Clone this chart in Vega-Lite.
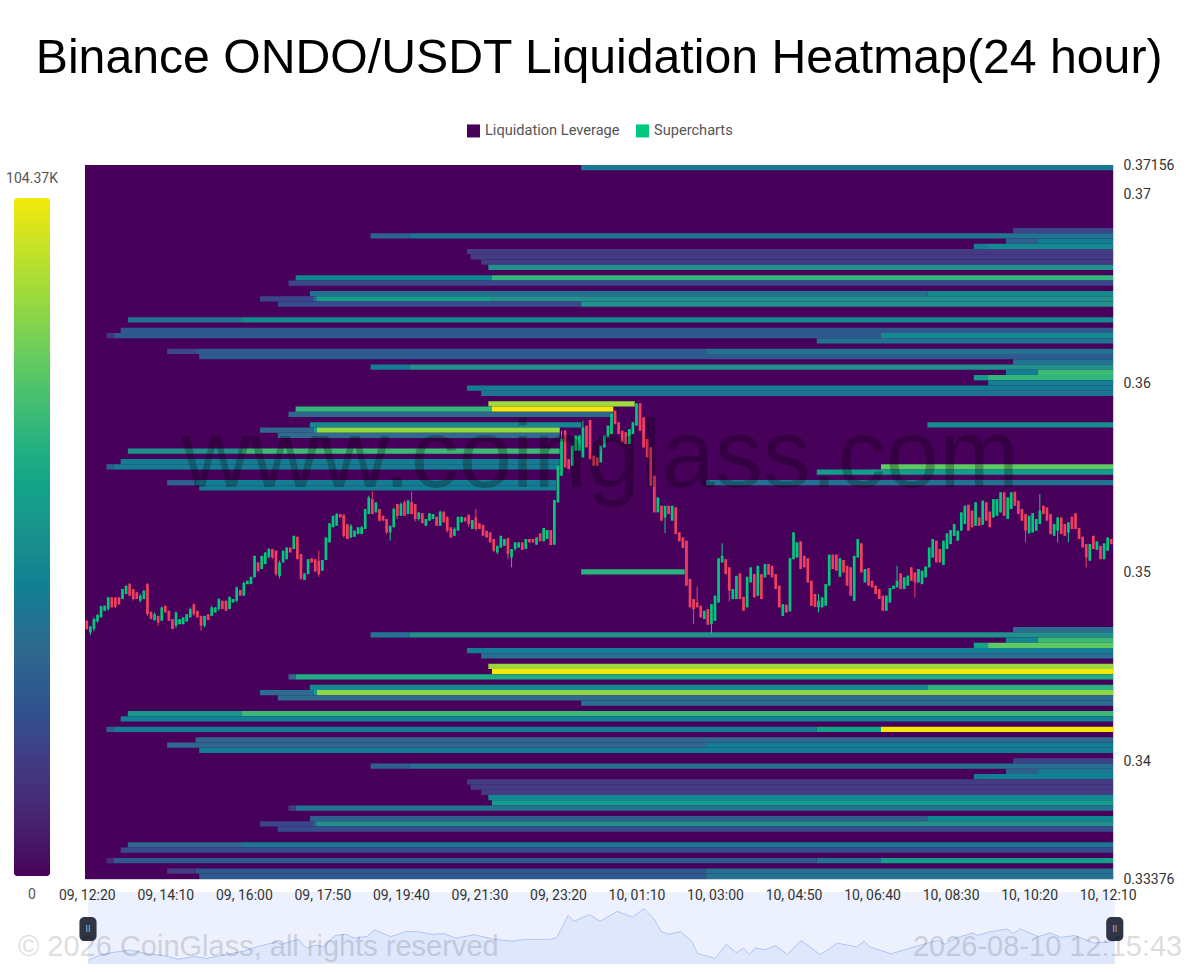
{
  "$schema": "https://vega.github.io/schema/vega-lite/v6.json",
  "title": {"text": "Binance ONDO/USDT Liquidation Heatmap(24 hour)", "font": "Liberation Sans", "fontSize": 48.2, "fontWeight": "normal", "color": "#000000", "anchor": "middle", "dx": 1, "offset": 40},
  "background": "#ffffff",
  "padding": {"left": 14, "top": 33, "right": 0, "bottom": 0},
  "bounds": "flush",
  "spacing": 13,
  "resolve": {"scale": {"x": "independent", "y": "independent"}},
  "datasets": {
    "mini": [
{"n":0.34,"p":0.34649},{"n":3.56,"p":0.34764},{"n":6.8,"p":0.34826},{"n":12.1,"p":0.34888},{"n":16.4,"p":0.34808},{"n":21.8,"p":0.34755},{"n":25.5,"p":0.34676},{"n":30.4,"p":0.34738},{"n":33.6,"p":0.34693},{"n":39,"p":0.34782},{"n":44.3,"p":0.34871},{"n":47.5,"p":0.34959},{"n":52.9,"p":0.35075},{"n":54.5,"p":0.35021},{"n":59.3,"p":0.35137},{"n":61.5,"p":0.34933},{"n":64.1,"p":0.35004},{"n":66.3,"p":0.34959},{"n":69.5,"p":0.35225},{"n":72.7,"p":0.35252},{"n":74.9,"p":0.35163},{"n":78.6,"p":0.35208},{"n":80.6,"p":0.35358},{"n":85.1,"p":0.35199},{"n":89.3,"p":0.35314},{"n":92.6,"p":0.35314},{"n":96.8,"p":0.35252},{"n":100.1,"p":0.3527},{"n":103.3,"p":0.35163},{"n":108.6,"p":0.35243},{"n":114,"p":0.35137},{"n":119.4,"p":0.35092},{"n":122.6,"p":0.35137},{"n":130.1,"p":0.35137},{"n":131.7,"p":0.35181},{"n":134.9,"p":0.35695},{"n":136.5,"p":0.35553},{"n":140.8,"p":0.35713},{"n":143.8,"p":0.35553},{"n":148.6,"p":0.35784},{"n":152.9,"p":0.35651},{"n":156.1,"p":0.35846},{"n":158.8,"p":0.35624},{"n":161,"p":0.35314},{"n":163.1,"p":0.35252},{"n":166.3,"p":0.35314},{"n":169.5,"p":0.35092},{"n":171.1,"p":0.34809},{"n":176,"p":0.34693},{"n":179.2,"p":0.35021},{"n":181.9,"p":0.34826},{"n":184,"p":0.34933},{"n":185.6,"p":0.34782},{"n":187.2,"p":0.34933},{"n":189.9,"p":0.34897},{"n":193.1,"p":0.34986},{"n":196.3,"p":0.34782},{"n":200.1,"p":0.3511},{"n":205.5,"p":0.34782},{"n":210.3,"p":0.35048},{"n":215.6,"p":0.34959},{"n":217.8,"p":0.35092},{"n":219.4,"p":0.34959},{"n":225.3,"p":0.348},{"n":231.7,"p":0.34959},{"n":238.7,"p":0.35119},{"n":240.3,"p":0.35021},{"n":243.5,"p":0.35163},{"n":248.3,"p":0.35287},{"n":249.4,"p":0.35225},{"n":253.2,"p":0.35314},{"n":258,"p":0.35376},{"n":259.6,"p":0.3527},{"n":261.5,"p":0.35376},{"n":266.6,"p":0.35199},{"n":269.8,"p":0.35287},{"n":273,"p":0.35181},{"n":276.8,"p":0.35225},{"n":282.1,"p":0.35048},{"n":288,"p":0.35092}
    ],
    "candles": [
{"n":0,"o":0.34743,"h":0.34747,"l":0.34694,"c":0.34699},{"n":1,"o":0.34682,"h":0.34717,"l":0.34667,"c":0.34712},{"n":2,"o":0.347,"h":0.34761,"l":0.34687,"c":0.34752},{"n":3,"o":0.34739,"h":0.34778,"l":0.34734,"c":0.34775},{"n":4,"o":0.34761,"h":0.34823,"l":0.34761,"c":0.3482},{"n":5,"o":0.34796,"h":0.34823,"l":0.34796,"c":0.34823},{"n":6,"o":0.34805,"h":0.3487,"l":0.34796,"c":0.34867},{"n":7,"o":0.34867,"h":0.34867,"l":0.34814,"c":0.34814},{"n":8,"o":0.34867,"h":0.34867,"l":0.3481,"c":0.34816},{"n":9,"o":0.34867,"h":0.34867,"l":0.34827,"c":0.34831},
{"n":10,"o":0.34858,"h":0.34911,"l":0.34858,"c":0.34911},{"n":11,"o":0.34885,"h":0.34929,"l":0.34885,"c":0.34929},{"n":12,"o":0.34937,"h":0.34943,"l":0.34876,"c":0.34876},{"n":13,"o":0.34911,"h":0.34911,"l":0.3485,"c":0.34858},{"n":14,"o":0.34894,"h":0.34894,"l":0.34858,"c":0.34858},{"n":15,"o":0.34849,"h":0.34885,"l":0.3484,"c":0.34876},{"n":16,"o":0.34858,"h":0.34906,"l":0.34858,"c":0.34902},{"n":17,"o":0.34937,"h":0.34943,"l":0.34769,"c":0.34778},{"n":18,"o":0.34791,"h":0.34791,"l":0.34752,"c":0.34752},{"n":19,"o":0.34747,"h":0.34787,"l":0.34743,"c":0.34778},
{"n":20,"o":0.34769,"h":0.34769,"l":0.34717,"c":0.34734},{"n":21,"o":0.34743,"h":0.34818,"l":0.34743,"c":0.34814},{"n":22,"o":0.34823,"h":0.34823,"l":0.34787,"c":0.34787},{"n":23,"o":0.34796,"h":0.34796,"l":0.34743,"c":0.34743},{"n":24,"o":0.34752,"h":0.34752,"l":0.34699,"c":0.34699},{"n":25,"o":0.34717,"h":0.34792,"l":0.34704,"c":0.34787},{"n":26,"o":0.34725,"h":0.34752,"l":0.34725,"c":0.34752},{"n":27,"o":0.34725,"h":0.34761,"l":0.34725,"c":0.34761},{"n":28,"o":0.34739,"h":0.34778,"l":0.34739,"c":0.34778},{"n":29,"o":0.34761,"h":0.34814,"l":0.34761,"c":0.34805},
{"n":30,"o":0.34831,"h":0.34835,"l":0.34769,"c":0.34778},{"n":31,"o":0.34796,"h":0.34796,"l":0.34761,"c":0.34761},{"n":32,"o":0.34769,"h":0.34769,"l":0.3469,"c":0.34717},{"n":33,"o":0.34717,"h":0.34769,"l":0.34708,"c":0.34769},{"n":34,"o":0.34778,"h":0.34778,"l":0.34747,"c":0.34747},{"n":35,"o":0.34769,"h":0.34823,"l":0.34769,"c":0.34814},{"n":36,"o":0.34787,"h":0.34814,"l":0.34787,"c":0.34814},{"n":37,"o":0.34805,"h":0.34863,"l":0.34796,"c":0.34858},{"n":38,"o":0.34849,"h":0.34849,"l":0.34805,"c":0.34805},{"n":39,"o":0.34849,"h":0.34849,"l":0.34796,"c":0.34796},
{"n":40,"o":0.34805,"h":0.3487,"l":0.34805,"c":0.3487},{"n":41,"o":0.3484,"h":0.34858,"l":0.3484,"c":0.34858},{"n":42,"o":0.34849,"h":0.34924,"l":0.3484,"c":0.3492},{"n":43,"o":0.34906,"h":0.34906,"l":0.34876,"c":0.34876},{"n":44,"o":0.34876,"h":0.34951,"l":0.34876,"c":0.34943},{"n":45,"o":0.34937,"h":0.34955,"l":0.34937,"c":0.34955},{"n":46,"o":0.34937,"h":0.34976,"l":0.34937,"c":0.34976},{"n":47,"o":0.34973,"h":0.35087,"l":0.34973,"c":0.35087},{"n":48,"o":0.35052,"h":0.35052,"l":0.34999,"c":0.35008},{"n":49,"o":0.35017,"h":0.35087,"l":0.35017,"c":0.35087},
{"n":50,"o":0.35043,"h":0.35105,"l":0.35043,"c":0.35105},{"n":51,"o":0.35078,"h":0.35128,"l":0.35078,"c":0.35123},{"n":52,"o":0.35123,"h":0.35123,"l":0.35069,"c":0.35078},{"n":53,"o":0.35114,"h":0.35114,"l":0.34981,"c":0.3499},{"n":54,"o":0.34981,"h":0.35061,"l":0.34967,"c":0.35052},{"n":55,"o":0.35052,"h":0.35114,"l":0.35052,"c":0.35114},{"n":56,"o":0.35069,"h":0.35131,"l":0.35069,"c":0.35131},{"n":57,"o":0.35131,"h":0.35131,"l":0.35105,"c":0.35105},{"n":58,"o":0.35123,"h":0.35193,"l":0.35123,"c":0.35193},{"n":59,"o":0.35188,"h":0.35188,"l":0.35069,"c":0.35069},
{"n":60,"o":0.35096,"h":0.35096,"l":0.34959,"c":0.34967},{"n":61,"o":0.34959,"h":0.34994,"l":0.34959,"c":0.34994},{"n":62,"o":0.3499,"h":0.35069,"l":0.3499,"c":0.35069},{"n":63,"o":0.35074,"h":0.35074,"l":0.35052,"c":0.35052},{"n":64,"o":0.35069,"h":0.35069,"l":0.35004,"c":0.35004},{"n":65,"o":0.35061,"h":0.35114,"l":0.34976,"c":0.3499},{"n":66,"o":0.35008,"h":0.35065,"l":0.35008,"c":0.35065},{"n":67,"o":0.35065,"h":0.35184,"l":0.35065,"c":0.35184},{"n":68,"o":0.35158,"h":0.35259,"l":0.35158,"c":0.35259},{"n":69,"o":0.35238,"h":0.35299,"l":0.35238,"c":0.35299},
{"n":70,"o":0.35247,"h":0.35313,"l":0.35247,"c":0.35308},{"n":71,"o":0.35308,"h":0.35308,"l":0.3529,"c":0.3529},{"n":72,"o":0.35305,"h":0.35305,"l":0.35184,"c":0.35193},{"n":73,"o":0.35255,"h":0.35255,"l":0.35176,"c":0.35176},{"n":74,"o":0.35184,"h":0.35255,"l":0.35181,"c":0.35246},{"n":75,"o":0.35188,"h":0.3522,"l":0.35188,"c":0.3522},{"n":76,"o":0.35202,"h":0.35238,"l":0.35202,"c":0.35238},{"n":77,"o":0.35202,"h":0.35246,"l":0.35202,"c":0.35238},{"n":78,"o":0.35229,"h":0.35335,"l":0.35229,"c":0.35335},{"n":79,"o":0.35308,"h":0.35405,"l":0.35308,"c":0.35396},
{"n":80,"o":0.35387,"h":0.35428,"l":0.35308,"c":0.35308},{"n":81,"o":0.35317,"h":0.3537,"l":0.35317,"c":0.3537},{"n":82,"o":0.35335,"h":0.35335,"l":0.35269,"c":0.35273},{"n":83,"o":0.35299,"h":0.35299,"l":0.35273,"c":0.35273},{"n":84,"o":0.35282,"h":0.35282,"l":0.35202,"c":0.35211},{"n":85,"o":0.35211,"h":0.35246,"l":0.35167,"c":0.35246},{"n":86,"o":0.35238,"h":0.35343,"l":0.35238,"c":0.35335},{"n":87,"o":0.35361,"h":0.35361,"l":0.35282,"c":0.35299},{"n":88,"o":0.35299,"h":0.3537,"l":0.35299,"c":0.35361},{"n":89,"o":0.3537,"h":0.35379,"l":0.35299,"c":0.35299},
{"n":90,"o":0.35308,"h":0.35384,"l":0.35308,"c":0.35379},{"n":91,"o":0.3537,"h":0.35428,"l":0.35308,"c":0.35308},{"n":92,"o":0.35361,"h":0.35361,"l":0.35269,"c":0.35282},{"n":93,"o":0.35282,"h":0.35317,"l":0.35273,"c":0.35317},{"n":94,"o":0.35313,"h":0.35313,"l":0.3526,"c":0.3526},{"n":95,"o":0.35246,"h":0.35282,"l":0.35246,"c":0.35282},{"n":96,"o":0.35273,"h":0.35312,"l":0.35273,"c":0.35312},{"n":97,"o":0.35282,"h":0.35308,"l":0.35282,"c":0.35308},{"n":98,"o":0.35294,"h":0.35294,"l":0.35246,"c":0.35246},{"n":99,"o":0.35246,"h":0.35326,"l":0.35246,"c":0.35321},
{"n":100,"o":0.35321,"h":0.35321,"l":0.35264,"c":0.35264},{"n":101,"o":0.35294,"h":0.35294,"l":0.35211,"c":0.3522},{"n":102,"o":0.35238,"h":0.35238,"l":0.35184,"c":0.35184},{"n":103,"o":0.35193,"h":0.35238,"l":0.35193,"c":0.35229},{"n":104,"o":0.3522,"h":0.35294,"l":0.3522,"c":0.35294},{"n":105,"o":0.35264,"h":0.35294,"l":0.35264,"c":0.35294},{"n":106,"o":0.3529,"h":0.3529,"l":0.35269,"c":0.35269},{"n":107,"o":0.35305,"h":0.35305,"l":0.35238,"c":0.35255},{"n":108,"o":0.35229,"h":0.35277,"l":0.35229,"c":0.35277},{"n":109,"o":0.3529,"h":0.35335,"l":0.3522,"c":0.35229},
{"n":110,"o":0.35259,"h":0.35259,"l":0.35229,"c":0.35229},{"n":111,"o":0.35251,"h":0.35251,"l":0.35193,"c":0.35193},{"n":112,"o":0.3522,"h":0.3522,"l":0.35184,"c":0.35184},{"n":113,"o":0.35211,"h":0.35211,"l":0.35158,"c":0.35158},{"n":114,"o":0.35176,"h":0.35176,"l":0.35105,"c":0.35114},{"n":115,"o":0.35105,"h":0.3514,"l":0.35096,"c":0.3514},{"n":116,"o":0.35131,"h":0.35193,"l":0.35131,"c":0.35193},{"n":117,"o":0.3514,"h":0.35176,"l":0.3514,"c":0.35176},{"n":118,"o":0.35181,"h":0.35181,"l":0.35069,"c":0.35096},{"n":119,"o":0.35078,"h":0.35123,"l":0.35026,"c":0.35123},
{"n":120,"o":0.35123,"h":0.35158,"l":0.35114,"c":0.35158},{"n":121,"o":0.35131,"h":0.35158,"l":0.35131,"c":0.35158},{"n":122,"o":0.35158,"h":0.35158,"l":0.35118,"c":0.35118},{"n":123,"o":0.35123,"h":0.35176,"l":0.35123,"c":0.35176},{"n":124,"o":0.35176,"h":0.35176,"l":0.35158,"c":0.35158},{"n":125,"o":0.35176,"h":0.35176,"l":0.35158,"c":0.35158},{"n":126,"o":0.35146,"h":0.35184,"l":0.35146,"c":0.35184},{"n":127,"o":0.35206,"h":0.35206,"l":0.35164,"c":0.35164},{"n":128,"o":0.35164,"h":0.35234,"l":0.35164,"c":0.35234},{"n":129,"o":0.35176,"h":0.35223,"l":0.35176,"c":0.35223},
{"n":130,"o":0.35223,"h":0.35223,"l":0.35144,"c":0.35144},{"n":131,"o":0.35146,"h":0.35382,"l":0.35146,"c":0.35382},{"n":132,"o":0.3537,"h":0.35564,"l":0.3537,"c":0.35564},{"n":133,"o":0.35511,"h":0.35749,"l":0.35511,"c":0.35705},{"n":134,"o":0.35749,"h":0.35753,"l":0.35555,"c":0.35555},{"n":135,"o":0.35599,"h":0.35599,"l":0.35546,"c":0.35546},{"n":136,"o":0.35564,"h":0.3567,"l":0.35564,"c":0.3567},{"n":137,"o":0.35643,"h":0.35723,"l":0.35643,"c":0.35723},{"n":138,"o":0.35643,"h":0.35728,"l":0.35643,"c":0.35723},{"n":139,"o":0.35608,"h":0.35802,"l":0.35608,"c":0.35767},
{"n":140,"o":0.35776,"h":0.35776,"l":0.35661,"c":0.35661},{"n":141,"o":0.35806,"h":0.35806,"l":0.35599,"c":0.35599},{"n":142,"o":0.35617,"h":0.35617,"l":0.35564,"c":0.35564},{"n":143,"o":0.35608,"h":0.35608,"l":0.35564,"c":0.35564},{"n":144,"o":0.35582,"h":0.3567,"l":0.35582,"c":0.3567},{"n":145,"o":0.35661,"h":0.35723,"l":0.35661,"c":0.35723},{"n":146,"o":0.35714,"h":0.35776,"l":0.35714,"c":0.35776},{"n":147,"o":0.35732,"h":0.35838,"l":0.35732,"c":0.35838},{"n":148,"o":0.35855,"h":0.35855,"l":0.35784,"c":0.35784},{"n":149,"o":0.35794,"h":0.35794,"l":0.35732,"c":0.35732},
{"n":150,"o":0.35749,"h":0.35749,"l":0.35688,"c":0.35688},{"n":151,"o":0.35741,"h":0.35741,"l":0.35679,"c":0.35679},{"n":152,"o":0.35679,"h":0.35758,"l":0.35679,"c":0.35758},{"n":153,"o":0.35732,"h":0.35794,"l":0.35732,"c":0.35794},{"n":154,"o":0.35776,"h":0.35894,"l":0.35776,"c":0.35894},{"n":155,"o":0.35894,"h":0.35894,"l":0.35749,"c":0.35749},{"n":156,"o":0.3582,"h":0.3582,"l":0.35661,"c":0.35661},{"n":157,"o":0.35705,"h":0.35705,"l":0.35608,"c":0.35608},{"n":158,"o":0.35661,"h":0.35661,"l":0.35458,"c":0.35458},{"n":159,"o":0.35511,"h":0.35511,"l":0.35317,"c":0.35317},
{"n":160,"o":0.35317,"h":0.35396,"l":0.35317,"c":0.35396},{"n":161,"o":0.35352,"h":0.35352,"l":0.35273,"c":0.35273},{"n":162,"o":0.3529,"h":0.35352,"l":0.35206,"c":0.35352},{"n":163,"o":0.35352,"h":0.35352,"l":0.35308,"c":0.35308},{"n":164,"o":0.35273,"h":0.35352,"l":0.35273,"c":0.35352},{"n":165,"o":0.35343,"h":0.35343,"l":0.35202,"c":0.35202},{"n":166,"o":0.35211,"h":0.35211,"l":0.35164,"c":0.35164},{"n":167,"o":0.35184,"h":0.35184,"l":0.35128,"c":0.35128},{"n":168,"o":0.35167,"h":0.35167,"l":0.34929,"c":0.34929},{"n":169,"o":0.34964,"h":0.34964,"l":0.34814,"c":0.34814},
{"n":170,"o":0.34858,"h":0.34858,"l":0.34725,"c":0.34805},{"n":171,"o":0.3484,"h":0.34924,"l":0.34814,"c":0.34814},{"n":172,"o":0.34823,"h":0.34823,"l":0.34761,"c":0.34761},{"n":173,"o":0.34752,"h":0.34796,"l":0.34752,"c":0.34796},{"n":174,"o":0.34805,"h":0.34805,"l":0.34722,"c":0.34722},{"n":175,"o":0.34725,"h":0.34831,"l":0.34673,"c":0.34831},{"n":176,"o":0.34743,"h":0.34876,"l":0.34743,"c":0.34876},{"n":177,"o":0.3484,"h":0.35074,"l":0.3484,"c":0.35074},{"n":178,"o":0.35052,"h":0.35153,"l":0.35052,"c":0.35087},{"n":179,"o":0.35069,"h":0.35069,"l":0.3499,"c":0.3499},
{"n":180,"o":0.35026,"h":0.35026,"l":0.34846,"c":0.34902},{"n":181,"o":0.34858,"h":0.34911,"l":0.34858,"c":0.34911},{"n":182,"o":0.34858,"h":0.34981,"l":0.34858,"c":0.34981},{"n":183,"o":0.34994,"h":0.34994,"l":0.34858,"c":0.34858},{"n":184,"o":0.3487,"h":0.3487,"l":0.34796,"c":0.34796},{"n":185,"o":0.34814,"h":0.34976,"l":0.34814,"c":0.34976},{"n":186,"o":0.34946,"h":0.35026,"l":0.34946,"c":0.35026},{"n":187,"o":0.3499,"h":0.3499,"l":0.34867,"c":0.34867},{"n":188,"o":0.34876,"h":0.35034,"l":0.34876,"c":0.35034},{"n":189,"o":0.3499,"h":0.3499,"l":0.34858,"c":0.34858},
{"n":190,"o":0.34973,"h":0.35043,"l":0.34973,"c":0.35043},{"n":191,"o":0.35043,"h":0.35043,"l":0.34987,"c":0.34987},{"n":192,"o":0.35034,"h":0.35034,"l":0.34973,"c":0.34973},{"n":193,"o":0.3499,"h":0.3499,"l":0.34911,"c":0.34911},{"n":194,"o":0.34929,"h":0.34929,"l":0.34814,"c":0.34814},{"n":195,"o":0.34769,"h":0.34831,"l":0.34769,"c":0.34831},{"n":196,"o":0.34828,"h":0.34828,"l":0.34787,"c":0.34787},{"n":197,"o":0.34793,"h":0.35074,"l":0.34793,"c":0.35074},{"n":198,"o":0.35069,"h":0.35211,"l":0.35069,"c":0.35211},{"n":199,"o":0.35078,"h":0.35158,"l":0.35078,"c":0.35158},
{"n":200,"o":0.35163,"h":0.35163,"l":0.35017,"c":0.35017},{"n":201,"o":0.35087,"h":0.35087,"l":0.35026,"c":0.35026},{"n":202,"o":0.35074,"h":0.35074,"l":0.34946,"c":0.34946},{"n":203,"o":0.34955,"h":0.34955,"l":0.34823,"c":0.34823},{"n":204,"o":0.34885,"h":0.34885,"l":0.34817,"c":0.34817},{"n":205,"o":0.34814,"h":0.34885,"l":0.34787,"c":0.34849},{"n":206,"o":0.34814,"h":0.34867,"l":0.34814,"c":0.34867},{"n":207,"o":0.34823,"h":0.34937,"l":0.34823,"c":0.34937},{"n":208,"o":0.34929,"h":0.35093,"l":0.34929,"c":0.35093},{"n":209,"o":0.35093,"h":0.35093,"l":0.35017,"c":0.35017},
{"n":210,"o":0.35093,"h":0.35093,"l":0.35008,"c":0.35008},{"n":211,"o":0.34976,"h":0.35074,"l":0.34976,"c":0.35074},{"n":212,"o":0.35065,"h":0.35065,"l":0.34999,"c":0.34999},{"n":213,"o":0.35034,"h":0.35034,"l":0.34929,"c":0.34929},{"n":214,"o":0.35026,"h":0.35026,"l":0.34876,"c":0.34876},{"n":215,"o":0.34849,"h":0.35087,"l":0.34849,"c":0.35087},{"n":216,"o":0.35078,"h":0.35176,"l":0.35078,"c":0.35176},{"n":217,"o":0.35153,"h":0.35153,"l":0.34999,"c":0.34999},{"n":218,"o":0.34946,"h":0.35017,"l":0.34946,"c":0.35017},{"n":219,"o":0.35022,"h":0.35022,"l":0.34929,"c":0.34929},
{"n":220,"o":0.34955,"h":0.34955,"l":0.3492,"c":0.3492},{"n":221,"o":0.34929,"h":0.34929,"l":0.34885,"c":0.34885},{"n":222,"o":0.34911,"h":0.34911,"l":0.34858,"c":0.34858},{"n":223,"o":0.34876,"h":0.34876,"l":0.34796,"c":0.34796},{"n":224,"o":0.34796,"h":0.34876,"l":0.34796,"c":0.34876},{"n":225,"o":0.3484,"h":0.34916,"l":0.3484,"c":0.34916},{"n":226,"o":0.34911,"h":0.34929,"l":0.34911,"c":0.34929},{"n":227,"o":0.3492,"h":0.35034,"l":0.3492,"c":0.34955},{"n":228,"o":0.34994,"h":0.34994,"l":0.34911,"c":0.34911},{"n":229,"o":0.34911,"h":0.34973,"l":0.34911,"c":0.34973},
{"n":230,"o":0.34929,"h":0.34982,"l":0.34929,"c":0.34982},{"n":231,"o":0.35026,"h":0.35026,"l":0.34955,"c":0.34955},{"n":232,"o":0.34999,"h":0.34999,"l":0.34867,"c":0.34946},{"n":233,"o":0.34946,"h":0.35017,"l":0.34946,"c":0.35017},{"n":234,"o":0.34937,"h":0.35008,"l":0.34937,"c":0.35008},{"n":235,"o":0.34973,"h":0.3503,"l":0.34973,"c":0.3503},{"n":236,"o":0.35026,"h":0.35131,"l":0.35026,"c":0.35131},{"n":237,"o":0.35078,"h":0.35176,"l":0.35078,"c":0.35176},{"n":238,"o":0.35167,"h":0.35167,"l":0.35052,"c":0.35052},{"n":239,"o":0.35123,"h":0.35123,"l":0.35052,"c":0.35052},
{"n":240,"o":0.35039,"h":0.35167,"l":0.35039,"c":0.35167},{"n":241,"o":0.35123,"h":0.35206,"l":0.35123,"c":0.35206},{"n":242,"o":0.35149,"h":0.35223,"l":0.35149,"c":0.35223},{"n":243,"o":0.35193,"h":0.35255,"l":0.35193,"c":0.35255},{"n":244,"o":0.35167,"h":0.3522,"l":0.35167,"c":0.3522},{"n":245,"o":0.3522,"h":0.35317,"l":0.3522,"c":0.35317},{"n":246,"o":0.35255,"h":0.35352,"l":0.35255,"c":0.35352},{"n":247,"o":0.35357,"h":0.35357,"l":0.3522,"c":0.3522},{"n":248,"o":0.35326,"h":0.35326,"l":0.35238,"c":0.35238},{"n":249,"o":0.35246,"h":0.3537,"l":0.35246,"c":0.3537},
{"n":250,"o":0.3529,"h":0.3529,"l":0.35246,"c":0.35246},{"n":251,"o":0.35251,"h":0.35379,"l":0.35251,"c":0.35379},{"n":252,"o":0.3537,"h":0.3537,"l":0.35273,"c":0.35273},{"n":253,"o":0.35321,"h":0.35321,"l":0.35238,"c":0.35238},{"n":254,"o":0.3529,"h":0.35387,"l":0.3529,"c":0.35387},{"n":255,"o":0.35299,"h":0.35387,"l":0.35299,"c":0.35387},{"n":256,"o":0.35317,"h":0.35423,"l":0.35317,"c":0.35423},{"n":257,"o":0.35423,"h":0.35423,"l":0.35299,"c":0.35299},{"n":258,"o":0.35282,"h":0.35396,"l":0.35282,"c":0.35396},{"n":259,"o":0.35335,"h":0.35423,"l":0.35335,"c":0.35423},
{"n":260,"o":0.35426,"h":0.35426,"l":0.35352,"c":0.35352},{"n":261,"o":0.35379,"h":0.35379,"l":0.35308,"c":0.35308},{"n":262,"o":0.35335,"h":0.35335,"l":0.35273,"c":0.35273},{"n":263,"o":0.35308,"h":0.35308,"l":0.35158,"c":0.3522},{"n":264,"o":0.35206,"h":0.35299,"l":0.35206,"c":0.35299},{"n":265,"o":0.35211,"h":0.35313,"l":0.35211,"c":0.35313},{"n":266,"o":0.3522,"h":0.35282,"l":0.3522,"c":0.35282},{"n":267,"o":0.35255,"h":0.35414,"l":0.35255,"c":0.35326},{"n":268,"o":0.35352,"h":0.35352,"l":0.35308,"c":0.35308},{"n":269,"o":0.35343,"h":0.35343,"l":0.35273,"c":0.35273},
{"n":270,"o":0.35308,"h":0.35308,"l":0.35202,"c":0.35202},{"n":271,"o":0.35193,"h":0.35255,"l":0.35193,"c":0.35255},{"n":272,"o":0.3522,"h":0.3529,"l":0.35158,"c":0.3529},{"n":273,"o":0.3529,"h":0.3529,"l":0.35202,"c":0.35202},{"n":274,"o":0.35255,"h":0.35255,"l":0.35193,"c":0.35193},{"n":275,"o":0.35211,"h":0.35264,"l":0.35158,"c":0.35264},{"n":276,"o":0.35294,"h":0.35294,"l":0.35229,"c":0.35229},{"n":277,"o":0.35312,"h":0.35312,"l":0.35229,"c":0.35229},{"n":278,"o":0.35234,"h":0.35234,"l":0.35176,"c":0.35176},{"n":279,"o":0.35188,"h":0.35188,"l":0.35131,"c":0.35131},
{"n":280,"o":0.35149,"h":0.35149,"l":0.35026,"c":0.35078},{"n":281,"o":0.35061,"h":0.35149,"l":0.35061,"c":0.35149},{"n":282,"o":0.35193,"h":0.35193,"l":0.35123,"c":0.35123},{"n":283,"o":0.35118,"h":0.35163,"l":0.35118,"c":0.35163},{"n":284,"o":0.3514,"h":0.3514,"l":0.35069,"c":0.35069},{"n":285,"o":0.35069,"h":0.35153,"l":0.35069,"c":0.35153},{"n":286,"o":0.35114,"h":0.35184,"l":0.35114,"c":0.35184},{"n":287,"o":0.35176,"h":0.35176,"l":0.35149,"c":0.35149}
    ],
    "heat": [
{"x0":138.5,"x1":287.5,"p0":0.37156,"p1":0.37128,"v":41700},
{"x0":259.5,"x1":287.5,"p0":0.36822,"p1":0.36795,"v":20900},
{"x0":79.5,"x1":90.5,"p0":0.36795,"p1":0.36767,"v":31300},{"x0":90.5,"x1":287.5,"p0":0.36795,"p1":0.36767,"v":39700},
{"x0":257.5,"x1":266.5,"p0":0.36767,"p1":0.36739,"v":31300},{"x0":266.5,"x1":287.5,"p0":0.36767,"p1":0.36739,"v":43800},
{"x0":248.5,"x1":252.5,"p0":0.36739,"p1":0.36711,"v":43800},{"x0":252.5,"x1":287.5,"p0":0.36739,"p1":0.36711,"v":49100},
{"x0":106.5,"x1":287.5,"p0":0.36711,"p1":0.36684,"v":17700},
{"x0":107.5,"x1":287.5,"p0":0.36684,"p1":0.36656,"v":17700},
{"x0":110.5,"x1":287.5,"p0":0.36656,"p1":0.36628,"v":17700},
{"x0":112.5,"x1":287.5,"p0":0.36628,"p1":0.366,"v":52200},
{"x0":58.5,"x1":113.5,"p0":0.36572,"p1":0.36545,"v":47000},{"x0":113.5,"x1":287.5,"p0":0.36572,"p1":0.36545,"v":68900},
{"x0":56.5,"x1":287.5,"p0":0.36545,"p1":0.36517,"v":20900},
{"x0":62.5,"x1":235.5,"p0":0.36489,"p1":0.36461,"v":38600},{"x0":235.5,"x1":287.5,"p0":0.36489,"p1":0.36461,"v":49100},
{"x0":48.5,"x1":63.5,"p0":0.36461,"p1":0.36433,"v":20900},{"x0":63.5,"x1":64.5,"p0":0.36461,"p1":0.36433,"v":39700},{"x0":64.5,"x1":113.5,"p0":0.36461,"p1":0.36433,"v":57400},{"x0":113.5,"x1":287.5,"p0":0.36461,"p1":0.36433,"v":52200},
{"x0":53.5,"x1":138.5,"p0":0.36433,"p1":0.36406,"v":23000},{"x0":138.5,"x1":287.5,"p0":0.36433,"p1":0.36406,"v":52200},
{"x0":11.5,"x1":43.5,"p0":0.3635,"p1":0.36322,"v":39700},{"x0":43.5,"x1":287.5,"p0":0.3635,"p1":0.36322,"v":49100},
{"x0":9.5,"x1":287.5,"p0":0.36294,"p1":0.36267,"v":28200},
{"x0":5.5,"x1":7.5,"p0":0.36267,"p1":0.36239,"v":15700},{"x0":7.5,"x1":222.5,"p0":0.36267,"p1":0.36239,"v":28200},{"x0":222.5,"x1":287.5,"p0":0.36267,"p1":0.36239,"v":49100},
{"x0":204.5,"x1":287.5,"p0":0.36239,"p1":0.36211,"v":39700},
{"x0":22.5,"x1":30.5,"p0":0.36183,"p1":0.36155,"v":20900},{"x0":30.5,"x1":173.5,"p0":0.36183,"p1":0.36155,"v":29200},{"x0":173.5,"x1":287.5,"p0":0.36183,"p1":0.36155,"v":38600},
{"x0":31.5,"x1":287.5,"p0":0.36155,"p1":0.36128,"v":29200},
{"x0":259.5,"x1":287.5,"p0":0.36128,"p1":0.361,"v":39700},
{"x0":79.5,"x1":90.5,"p0":0.361,"p1":0.36072,"v":43800},{"x0":90.5,"x1":287.5,"p0":0.361,"p1":0.36072,"v":52200},
{"x0":257.5,"x1":266.5,"p0":0.36072,"p1":0.36044,"v":43800},{"x0":266.5,"x1":287.5,"p0":0.36072,"p1":0.36044,"v":71000},
{"x0":248.5,"x1":252.5,"p0":0.36044,"p1":0.36016,"v":57400},{"x0":252.5,"x1":287.5,"p0":0.36044,"p1":0.36016,"v":68900},
{"x0":252.5,"x1":287.5,"p0":0.36016,"p1":0.35989,"v":43800},
{"x0":106.5,"x1":287.5,"p0":0.35989,"p1":0.35961,"v":43800},
{"x0":110.5,"x1":287.5,"p0":0.35961,"p1":0.35933,"v":39700},
{"x0":112.5,"x1":153.5,"p0":0.35905,"p1":0.35877,"v":89800},
{"x0":58.5,"x1":113.5,"p0":0.35877,"p1":0.3585,"v":68900},{"x0":113.5,"x1":147.5,"p0":0.35877,"p1":0.3585,"v":104370},
{"x0":56.5,"x1":147.5,"p0":0.3585,"p1":0.35822,"v":34400},
{"x0":62.5,"x1":138.5,"p0":0.35794,"p1":0.35766,"v":49100},{"x0":235.5,"x1":287.5,"p0":0.35794,"p1":0.35766,"v":50100},
{"x0":48.5,"x1":63.5,"p0":0.35766,"p1":0.35738,"v":34400},{"x0":63.5,"x1":64.5,"p0":0.35766,"p1":0.35738,"v":57400},{"x0":64.5,"x1":132.5,"p0":0.35766,"p1":0.35738,"v":87700},
{"x0":53.5,"x1":132.5,"p0":0.35738,"p1":0.35711,"v":35500},
{"x0":11.5,"x1":43.5,"p0":0.35655,"p1":0.35627,"v":52200},{"x0":43.5,"x1":132.5,"p0":0.35655,"p1":0.35627,"v":71000},
{"x0":9.5,"x1":132.5,"p0":0.35599,"p1":0.35572,"v":43800},
{"x0":5.5,"x1":7.5,"p0":0.35572,"p1":0.35544,"v":31300},{"x0":7.5,"x1":132.5,"p0":0.35572,"p1":0.35544,"v":43800},{"x0":222.5,"x1":287.5,"p0":0.35572,"p1":0.35544,"v":78300},
{"x0":204.5,"x1":287.5,"p0":0.35544,"p1":0.35516,"v":57400},
{"x0":22.5,"x1":30.5,"p0":0.35488,"p1":0.3546,"v":31300},{"x0":30.5,"x1":131.5,"p0":0.35488,"p1":0.3546,"v":43800},{"x0":173.5,"x1":287.5,"p0":0.35488,"p1":0.3546,"v":38600},
{"x0":31.5,"x1":131.5,"p0":0.3546,"p1":0.35433,"v":43800},
{"x0":138.5,"x1":167.5,"p0":0.35016,"p1":0.34988,"v":67800},
{"x0":259.5,"x1":287.5,"p0":0.3471,"p1":0.34682,"v":36500},
{"x0":79.5,"x1":90.5,"p0":0.34682,"p1":0.34655,"v":39700},{"x0":90.5,"x1":287.5,"p0":0.34682,"p1":0.34655,"v":52200},
{"x0":257.5,"x1":266.5,"p0":0.34655,"p1":0.34627,"v":47000},{"x0":266.5,"x1":287.5,"p0":0.34655,"p1":0.34627,"v":71000},
{"x0":248.5,"x1":252.5,"p0":0.34627,"p1":0.34599,"v":60500},{"x0":252.5,"x1":287.5,"p0":0.34627,"p1":0.34599,"v":78300},
{"x0":106.5,"x1":287.5,"p0":0.34599,"p1":0.34571,"v":43800},
{"x0":110.5,"x1":287.5,"p0":0.34571,"p1":0.34543,"v":37600},
{"x0":112.5,"x1":287.5,"p0":0.34515,"p1":0.34488,"v":88700},
{"x0":113.5,"x1":287.5,"p0":0.34488,"p1":0.3446,"v":104370},
{"x0":56.5,"x1":58.5,"p0":0.3446,"p1":0.34432,"v":34400},{"x0":58.5,"x1":287.5,"p0":0.3446,"p1":0.34432,"v":64700},
{"x0":62.5,"x1":235.5,"p0":0.34404,"p1":0.34377,"v":49100},{"x0":235.5,"x1":287.5,"p0":0.34404,"p1":0.34377,"v":67800},
{"x0":48.5,"x1":63.5,"p0":0.34377,"p1":0.34349,"v":36500},{"x0":63.5,"x1":64.5,"p0":0.34377,"p1":0.34349,"v":57400},{"x0":64.5,"x1":287.5,"p0":0.34377,"p1":0.34349,"v":86600},
{"x0":53.5,"x1":287.5,"p0":0.34349,"p1":0.34321,"v":35500},
{"x0":138.5,"x1":287.5,"p0":0.34321,"p1":0.34293,"v":37600},
{"x0":11.5,"x1":43.5,"p0":0.34265,"p1":0.34238,"v":54300},{"x0":43.5,"x1":287.5,"p0":0.34265,"p1":0.34238,"v":71000},
{"x0":9.5,"x1":287.5,"p0":0.34238,"p1":0.3421,"v":44900},
{"x0":5.5,"x1":7.5,"p0":0.34182,"p1":0.34154,"v":31300},{"x0":7.5,"x1":204.5,"p0":0.34182,"p1":0.34154,"v":41700},{"x0":204.5,"x1":222.5,"p0":0.34182,"p1":0.34154,"v":60500},{"x0":222.5,"x1":287.5,"p0":0.34182,"p1":0.34154,"v":104370},
{"x0":30.5,"x1":287.5,"p0":0.34126,"p1":0.34099,"v":34400},
{"x0":22.5,"x1":173.5,"p0":0.34099,"p1":0.34071,"v":34400},{"x0":173.5,"x1":287.5,"p0":0.34099,"p1":0.34071,"v":43800},
{"x0":31.5,"x1":287.5,"p0":0.34071,"p1":0.34043,"v":43800},
{"x0":259.5,"x1":287.5,"p0":0.34015,"p1":0.33987,"v":20900},
{"x0":79.5,"x1":90.5,"p0":0.33987,"p1":0.3396,"v":31300},{"x0":90.5,"x1":287.5,"p0":0.33987,"p1":0.3396,"v":37600},
{"x0":257.5,"x1":266.5,"p0":0.3396,"p1":0.33932,"v":31300},{"x0":266.5,"x1":287.5,"p0":0.3396,"p1":0.33932,"v":41700},
{"x0":248.5,"x1":252.5,"p0":0.33932,"p1":0.33904,"v":41700},{"x0":252.5,"x1":287.5,"p0":0.33932,"p1":0.33904,"v":44900},
{"x0":106.5,"x1":287.5,"p0":0.33904,"p1":0.33876,"v":17700},
{"x0":107.5,"x1":287.5,"p0":0.33876,"p1":0.33848,"v":17700},
{"x0":110.5,"x1":287.5,"p0":0.33848,"p1":0.33821,"v":17700},
{"x0":112.5,"x1":287.5,"p0":0.33821,"p1":0.33793,"v":49100},
{"x0":113.5,"x1":287.5,"p0":0.33793,"p1":0.33765,"v":57400},
{"x0":56.5,"x1":58.5,"p0":0.33765,"p1":0.33737,"v":17700},{"x0":58.5,"x1":287.5,"p0":0.33765,"p1":0.33737,"v":39700},
{"x0":62.5,"x1":235.5,"p0":0.33709,"p1":0.33682,"v":31300},{"x0":235.5,"x1":287.5,"p0":0.33709,"p1":0.33682,"v":48000},
{"x0":48.5,"x1":63.5,"p0":0.33682,"p1":0.33654,"v":20900},{"x0":63.5,"x1":64.5,"p0":0.33682,"p1":0.33654,"v":39700},{"x0":64.5,"x1":287.5,"p0":0.33682,"p1":0.33654,"v":52200},
{"x0":53.5,"x1":287.5,"p0":0.33654,"p1":0.33626,"v":23000},
{"x0":11.5,"x1":43.5,"p0":0.3357,"p1":0.33543,"v":34400},{"x0":43.5,"x1":287.5,"p0":0.3357,"p1":0.33543,"v":41700},
{"x0":9.5,"x1":287.5,"p0":0.33543,"p1":0.33515,"v":23000},
{"x0":5.5,"x1":7.5,"p0":0.33487,"p1":0.33459,"v":12500},{"x0":7.5,"x1":204.5,"p0":0.33487,"p1":0.33459,"v":28200},{"x0":204.5,"x1":222.5,"p0":0.33487,"p1":0.33459,"v":39700},{"x0":222.5,"x1":287.5,"p0":0.33487,"p1":0.33459,"v":57400},
{"x0":22.5,"x1":30.5,"p0":0.33432,"p1":0.33404,"v":17700},{"x0":30.5,"x1":173.5,"p0":0.33432,"p1":0.33404,"v":28200},{"x0":173.5,"x1":287.5,"p0":0.33432,"p1":0.33404,"v":38600},
{"x0":31.5,"x1":173.5,"p0":0.33404,"p1":0.33376,"v":28200},{"x0":173.5,"x1":287.5,"p0":0.33404,"p1":0.33376,"v":38600}
    ]
  },
  "vconcat": [
    {
      "width": 1028,
      "height": 714,
      "view": {"stroke": "#cfcfdc"},
      "layer": [
        {
          "data": {"values": [{"x0": -0.5, "x1": 287.5, "p0": 0.37156, "p1": 0.33376, "series": "Liquidation Leverage"}]},
          "mark": {"type": "rect"},
          "encoding": {
            "x": {"field": "x0", "type": "quantitative", "title": null, "axis": null, "scale": {"domain": [-0.5, 287.5], "nice": false, "zero": false, "padding": 0}},
            "x2": {"field": "x1"},
            "y": {
              "field": "p0", "type": "quantitative", "title": null,
              "scale": {"domain": [0.33376, 0.37156], "nice": false, "zero": false},
              "axis": {
                "orient": "right",
                "values": [0.33376, 0.34, 0.35, 0.36, 0.37, 0.37156],
                "labelExpr": "'' + datum.value",
                "grid": false, "domain": false, "ticks": false, "labelPadding": 10, "labelFont": "Roboto", "labelFontSize": 14, "labelColor": "#333333", "labelOverlap": false, "labelFlush": false
              }
            },
            "y2": {"field": "p1"},
            "color": {
              "field": "series", "type": "nominal",
              "scale": {"domain": ["Liquidation Leverage", "Supercharts"], "range": ["#47015a", "#00c97f"]},
              "legend": {
                "title": null, "orient": "none", "legendX": 381, "legendY": -42, "direction": "horizontal", "columns": 2,
                "symbolType": "square", "symbolSize": 170, "symbolOpacity": 1, "columnPadding": 15,
                "labelFont": "Roboto", "labelFontSize": 14.6, "labelColor": "#555555"
              }
            }
          }
        },
        {
          "data": {"name": "heat"},
          "mark": {"type": "rect"},
          "encoding": {
            "x": {"field": "x0", "type": "quantitative"},
            "x2": {"field": "x1"},
            "y": {"field": "p0", "type": "quantitative"},
            "y2": {"field": "p1"},
            "fill": {
              "field": "v", "type": "quantitative",
              "scale": {"domain": [0, 104370], "range": ["#47015a", "#443a83", "#31688e", "#21918c", "#35b779", "#90d743", "#f3e80a"]},
              "legend": {
                "title": null, "orient": "none", "legendX": -71, "legendY": 33, "direction": "vertical",
                "gradientLength": 678, "gradientThickness": 36, "values": [0, 104370],
                "labelExpr": "datum.value > 0 ? '104.37K' : '0'", "labelOverlap": false,
                "labelFont": "Roboto", "labelFontSize": 14, "labelColor": "#555555",
                "encode": {
                  "gradient": {"update": {"cornerRadius": {"value": 3}}},
                  "labels": {"update": {"x": {"value": 18}, "y": {"signal": "datum.value > 0 ? -26 : 704"}, "align": {"value": "center"}}}
                }
              }
            }
          }
        },
        {
          "data": {"name": "candles"},
          "mark": {"type": "rule", "strokeWidth": 1},
          "encoding": {
            "x": {"field": "n", "type": "quantitative"},
            "y": {"field": "l", "type": "quantitative"},
            "y2": {"field": "h"},
            "stroke": {"condition": {"test": "datum.c < datum.o", "value": "#f0405f"}, "value": "#12c68a"}
          }
        },
        {
          "data": {"name": "candles"},
          "mark": {"type": "bar", "size": 2.7},
          "encoding": {
            "x": {"field": "n", "type": "quantitative"},
            "y": {"field": "o", "type": "quantitative"},
            "y2": {"field": "c"},
            "color": {"condition": {"test": "datum.c < datum.o", "value": "#f0405f"}, "datum": "Supercharts", "type": "nominal"}
          }
        },
        {
          "data": {"values": [{"label": "www.coinglass.com", "n": 143.8, "p": 0.35449}]},
          "mark": {"type": "text", "font": "Liberation Sans", "fontSize": 96, "align": "center", "baseline": "alphabetic", "color": "#000000", "opacity": 0.25},
          "encoding": {
            "x": {"field": "n", "type": "quantitative"},
            "y": {"field": "p", "type": "quantitative"},
            "text": {"field": "label"}
          }
        }
      ]
    },
    {
      "width": 1028,
      "height": 72,
      "view": {"stroke": null},
      "layer": [
        {
          "data": {"values": [{"x0": 0.34, "x1": 288, "p0": 0.34565, "p1": 0.36233}]},
          "mark": {"type": "rect", "color": "#edf1fd"},
          "encoding": {
            "x": {
              "field": "x0", "type": "quantitative", "title": null,
              "scale": {"domain": [-0.5, 287.5], "nice": false, "zero": false, "padding": 0},
              "axis": {
                "orient": "top", "zindex": 1,
                "values": [0, 22, 44, 66, 88, 110, 132, 154, 176, 198, 220, 242, 264, 286],
                "labelExpr": "['09, 12:20','09, 14:10','09, 16:00','09, 17:50','09, 19:40','09, 21:30','09, 23:20','10, 01:10','10, 03:00','10, 04:50','10, 06:40','10, 08:30','10, 10:20','10, 12:10'][datum.value / 22]",
                "grid": false, "domain": false, "ticks": false, "labelPadding": -10, "labelFont": "Roboto", "labelFontSize": 14, "labelColor": "#333333", "labelOverlap": false, "labelFlush": false
              }
            },
            "x2": {"field": "x1"},
            "y": {"field": "p0", "type": "quantitative", "title": null, "axis": null, "scale": {"domain": [0.34565, 0.36233], "nice": false, "zero": false}},
            "y2": {"field": "p1"}
          }
        },
        {
          "data": {"name": "mini"},
          "mark": {"type": "area", "color": "#d7e2fb", "line": {"color": "#aec6f6", "strokeWidth": 1}},
          "encoding": {
            "x": {"field": "n", "type": "quantitative"},
            "y": {"field": "p", "type": "quantitative"},
            "y2": {"datum": 0.34565}
          }
        },
        {
          "data": {"values": [{"x0": -2.06, "x1": 2.74, "p0": 0.35098, "p1": 0.35654}, {"x0": 285.6, "x1": 290.4, "p0": 0.35098, "p1": 0.35654}]},
          "mark": {"type": "rect", "color": "#2f3545", "cornerRadius": 5},
          "encoding": {
            "x": {"field": "x0", "type": "quantitative"},
            "x2": {"field": "x1"},
            "y": {"field": "p0", "type": "quantitative"},
            "y2": {"field": "p1"}
          }
        },
        {
          "data": {"values": [{"label": "II", "n": 0.34, "p": 0.35376}, {"label": "II", "n": 288, "p": 0.35376}]},
          "mark": {"type": "text", "font": "Roboto", "fontSize": 9, "color": "#aab0bd", "align": "center", "baseline": "middle"},
          "encoding": {
            "x": {"field": "n", "type": "quantitative"},
            "y": {"field": "p", "type": "quantitative"},
            "text": {"field": "label"}
          }
        },
        {
          "data": {"values": [{"label": "© 2026 CoinGlass, all rights reserved", "n": -19.3, "p": 0.34959}]},
          "mark": {"type": "text", "font": "Liberation Sans", "fontSize": 29, "align": "left", "baseline": "middle", "color": "#000000", "opacity": 0.13},
          "encoding": {
            "x": {"field": "n", "type": "quantitative"},
            "y": {"field": "p", "type": "quantitative"},
            "text": {"field": "label"}
          }
        },
        {
          "data": {"values": [{"label": "2026-08-10 12:15:43", "n": 306.9, "p": 0.34959}]},
          "mark": {"type": "text", "font": "Liberation Sans", "fontSize": 29, "align": "right", "baseline": "middle", "color": "#000000", "opacity": 0.13},
          "encoding": {
            "x": {"field": "n", "type": "quantitative"},
            "y": {"field": "p", "type": "quantitative"},
            "text": {"field": "label"}
          }
        }
      ]
    }
  ]
}
